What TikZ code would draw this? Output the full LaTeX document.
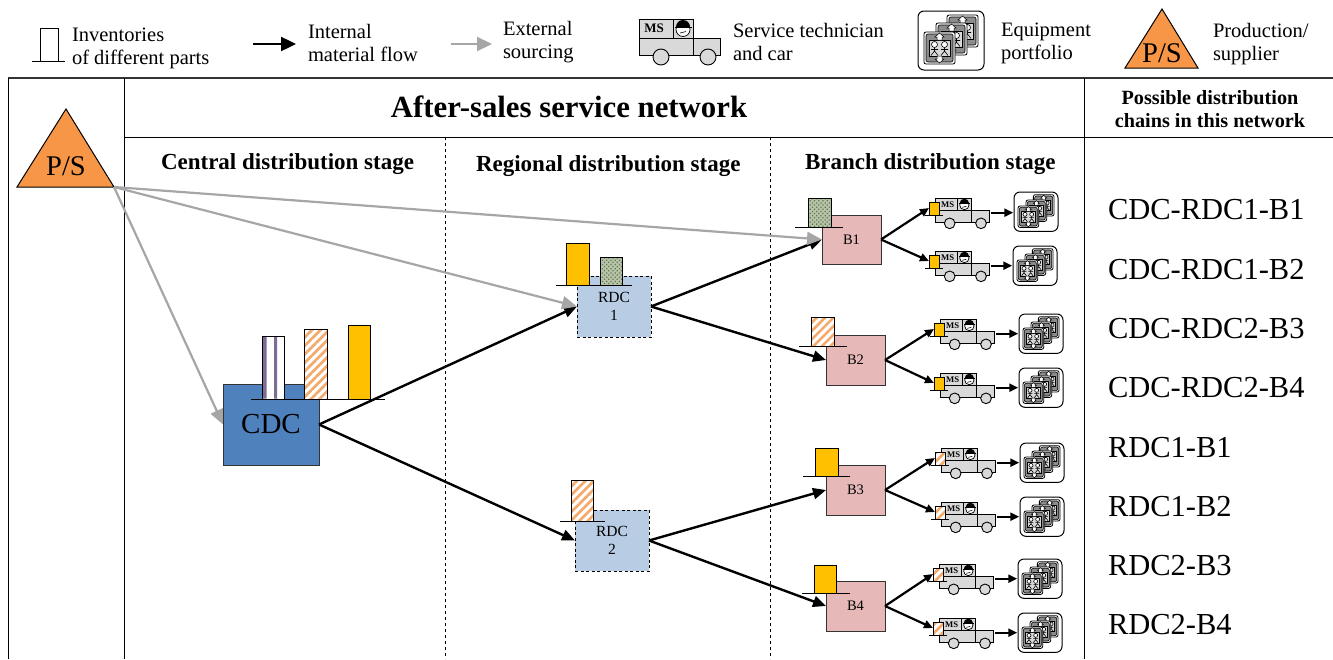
\documentclass[tikz,border=0pt]{standalone}
\usepackage{fontspec}
\setmainfont{Liberation Serif}
\usetikzlibrary{arrows.meta,patterns.meta}
\definecolor{cdcblue}{HTML}{4F81BD}
\definecolor{rdcblue}{HTML}{B8CCE4}
\definecolor{branchpink}{HTML}{E6B8B7}
\definecolor{psorange}{HTML}{F79646}
\definecolor{invyellow}{HTML}{FFC000}
\definecolor{truckgray}{HTML}{D9D9D9}
\definecolor{flowgray}{HTML}{A6A6A6}
\definecolor{stripeviolet}{HTML}{7B6D94}
\definecolor{hatchorange}{HTML}{F4A968}
\definecolor{dotgreen}{HTML}{5F7A45}
\newcommand{\msx}{15}
\tikzset{
  x=1pt,y=-1pt,
  every node/.style={inner sep=0pt,outer sep=0pt},
  grid/.style={line width=1pt,black},
  stagediv/.style={line width=.8pt,black,dash pattern=on 3pt off 3pt},
  flow/.style={line width=2.4pt,black,-{Triangle[length=13pt,width=11pt]}},
  flowsmall/.style={line width=2.2pt,black,-{Triangle[length=9pt,width=8pt]}},
  source/.style={line width=2.2pt,flowgray,-{Triangle[length=15pt,width=13pt]}},
  cdcbox/.style={draw=black!80,line width=1pt,fill=cdcblue},
  rdcbox/.style={draw=black,line width=1pt,dashed,dash pattern=on 3pt off 2.5pt,fill=rdcblue,align=center,font=\fontsize{15.5}{18}\selectfont},
  branchbox/.style={draw=black!80,line width=1pt,fill=branchpink,font=\fontsize{14.5}{16}\selectfont},
  inv/.style={draw=black,line width=1pt},
  invy/.style={inv,fill=invyellow},
  invo/.style={inv,preaction={fill=white},pattern={Lines[angle=45,distance=6pt,line width=2.6pt]},pattern color=hatchorange},
  invg/.style={inv,preaction={fill=dotgreen!45!white},pattern={Dots[radius=.9pt,distance=3pt,angle=45]},pattern color=dotgreen},
  invw/.style={inv,fill=white},
  shelf/.style={line width=1pt,black},
  legend/.style={anchor=west,align=left,font=\fontsize{20.5}{23}\selectfont},
  stage/.style={anchor=base west,font=\fontsize{23}{26}\selectfont\bfseries},
  chain/.style={anchor=base west,font=\fontsize{30.5}{33}\selectfont},
  pics/truck/.style={code={
    \draw[line width=.9pt,fill=truckgray] (0,0) rectangle (34,19);
    \draw[line width=.9pt,fill=truckgray] (34,0) rectangle (54,19);
    \draw[line width=.9pt,fill=truckgray] (0,19) rectangle (54,36);
    \draw[line width=.9pt,fill=truckgray] (54,19) rectangle (81,36);
    \draw[line width=.9pt,fill=truckgray] (22,38) circle (8);
    \draw[line width=.9pt,fill=truckgray] (69,38) circle (8);
    \draw[line width=.7pt,fill=white] (44,10.5) circle (7);
    \fill[black] (37,8) arc[start angle=180,end angle=360,radius=7] -- cycle;
    \draw[line width=.9pt] (36,8) -- (53,8);
    \draw[line width=.6pt] (41,14) -- (47,12.5);
    \node[font=\fontsize{13}{13}\selectfont\bfseries,transform shape] (-ms) at (\msx,9.5) {MS};
    \coordinate (-right) at (84,22);
  }},
  pics/card/.style={code={
    \draw[line width=.8pt,fill=white,rounded corners=2pt] (0,0) rectangle (31,32);
    \draw[line width=.6pt,fill=black!45,rounded corners=2pt] (2,2) rectangle (29,30);
    \draw[line width=.6pt,fill=truckgray] (5,8) rectangle (26,24);
    \draw[line width=.5pt,fill=white] (15.5,1) -- (20,5) -- (18,5) -- (18,8) -- (13,8) -- (13,5) -- (11,5) -- cycle;
    \draw[line width=.5pt,fill=white] (15.5,31) -- (20,27) -- (18,27) -- (18,24) -- (13,24) -- (13,27) -- (11,27) -- cycle;
    \foreach \fx in {10.5,20.5}{
      \draw[line width=.6pt,fill=white] (\fx,12.5) circle (3);
      \draw[line width=.6pt] (\fx,15.5) -- (\fx,19) (\fx-3.5,17.5) -- (\fx+3.5,17.5) (\fx,19) -- (\fx-3.5,23.5) (\fx,19) -- (\fx+3.5,23.5);
    }
  }},
  pics/portfolio/.style={code={
    \draw[line width=1pt,fill=white,rounded corners=6pt] (0,0) rectangle (66,59);
    \pic[transform shape] at (29,4) {card};
    \pic[transform shape] at (18,12) {card};
    \pic[transform shape] at (6,21) {card};
    \coordinate (-left) at (-1,30);
  }},
}
% bar as named node: name, x1, y1, x2, y2, style
\newcommand{\invbar}[6]{%
  \pgfmathsetlengthmacro\barw{(#4)-(#2)}%
  \pgfmathsetlengthmacro\barh{(#5)-(#3)}%
  \node[#6,minimum width=\barw,minimum height=\barh] (#1) at ({((#2)+(#4))/2},{((#3)+(#5))/2}) {};}
% crew: id, truck x, truck y, portfolio x, portfolio y, inventory style
\newcommand{\crew}[6]{%
  \pic[scale=.667,transform shape] (t#1) at (#2,#3) {truck};
  \pic[scale=.667,transform shape] (p#1) at (#4,#5) {portfolio};
  \invbar{i#1}{#2-6}{#3+4}{#2+4}{#3+17}{#6}
  \draw[shelf] ({#2-10},{#3+17}) -- ({#2+8},{#3+17});
  \coordinate (i#1-in) at ({#2-6},{#3+10});
  \draw[flowsmall] (t#1-right) -- (t#1-right -| p#1-left);}
\begin{document}
\begin{tikzpicture}
\useasboundingbox (0,0) rectangle (1333,659);
% frame
\draw[line width=1.6pt,black!80] (8,78) -- (1333,78);
\draw[grid] (8,78) -- (8,659);
\draw[grid] (124,78) -- (124,659);
\draw[grid] (1084,78) -- (1084,659);
\draw[grid] (124,137) -- (1333,137);
\draw[stagediv] (445,137) -- (445,659);
\draw[stagediv] (770,137) -- (770,659);
% legend
\invbar{lgInv}{40}{28}{58}{61}{inv}
\draw[shelf] (32,61) -- (65,61);
\node[legend] (lgInvT) at (72,48) {Inventories\\of different parts};
\coordinate (lgA1) at (253,44); \coordinate (lgA2) at (296,44);
\draw[line width=2.4pt,black,-{Triangle[length=15pt,width=14pt]}] (lgA1) -- (lgA2);
\node[legend] (lgIntT) at (308,43) {Internal\\material flow};
\coordinate (lgB1) at (451,44); \coordinate (lgB2) at (492,44);
\draw[line width=2.2pt,flowgray,-{Triangle[length=15pt,width=14pt]}] (lgB1) -- (lgB2);
\node[legend] (lgExtT) at (503,42) {External\\sourcing};
\pic (lgTruck) at (639,19) {truck};
\node[legend] (lgSerT) at (733,42) {Service technician\\and car};
\pic (lgPort) at (918,11) {portfolio};
\node[legend] (lgEqT) at (1001,43) {Equipment\\portfolio};
\draw[line width=1pt,fill=psorange] (1162,9) -- (1198,68) -- (1125,68) -- cycle;
\node[font=\fontsize{28.5}{28}\selectfont] (lgPS) at (1162,53) {P/S};
\node[legend] (lgProdT) at (1213,44) {Production/\\supplier};
% headers
\node[anchor=base,font=\fontsize{30.8}{33}\selectfont\bfseries] (title) at (569,117) {After-sales service network};
\node[align=center,font=\fontsize{20.2}{23}\selectfont\bfseries] (possible) at (1210,109) {Possible distribution\\chains in this network};
\node[stage] (stC) at (161,169.5) {Central distribution stage};
\node[stage] (stR) at (476,171.5) {Regional distribution stage};
\node[stage] (stB) at (805,169.5) {Branch distribution stage};
% P/S
\draw[line width=1pt,fill=psorange] (66,109) -- (114,187) -- (17,187) -- cycle;
\node[font=\fontsize{28.5}{28}\selectfont] (psT) at (66,166) {P/S};
\coordinate (PS) at (114,187);
% CDC
\node[cdcbox,minimum width=96pt,minimum height=81pt,font=\fontsize{29}{30}\selectfont] (CDC) at (271,424.5) {CDC};
\invbar{cdcA}{262}{336}{284}{399}{invw}
\fill[stripeviolet] (263,337) rectangle (266.5,398.5) (274,337) rectangle (277,398.5);
\invbar{cdcB}{304}{329}{327}{399}{invo}
\invbar{cdcC}{348}{325}{370}{399}{invy}
\draw[shelf] (251,399) -- (385,399);
% RDC
\node[rdcbox,minimum width=74pt,minimum height=61pt] (RDC1) at (614,306.5) {RDC\\1};
\invbar{r1A}{566}{243}{589}{285}{invy}
\invbar{r1B}{600}{257}{622}{285}{invg}
\draw[shelf] (556,285) -- (632,285);
\node[rdcbox,minimum width=74pt,minimum height=61pt] (RDC2) at (612,540.5) {RDC\\2};
\invbar{r2A}{571}{480}{593}{521}{invo}
\draw[shelf] (560,521) -- (605,521);
% branches
\node[branchbox,minimum width=59pt,minimum height=49pt] (B1) at (851.5,239.5) {B1};
\invbar{b1A}{808}{198}{831}{227}{invg}
\draw[shelf] (795,227) -- (843,227);
\node[branchbox,minimum width=59pt,minimum height=50pt] (B2) at (855.5,360) {B2};
\invbar{b2A}{811}{317}{834}{346}{invo}
\draw[shelf] (799,346) -- (847,346);
\node[branchbox,minimum width=59pt,minimum height=50pt] (B3) at (855.5,490) {B3};
\invbar{b3A}{815}{448}{838}{476}{invy}
\draw[shelf] (803,476) -- (850,476);
\node[branchbox,minimum width=59pt,minimum height=50pt] (B4) at (855.5,606) {B4};
\invbar{b4A}{814}{565}{836}{593}{invy}
\draw[shelf] (802,593) -- (850,593);
% crews
\renewcommand{\msx}{19}
\crew{1}{935}{198}{1014}{192}{invy}
\crew{2}{935}{251}{1013}{246}{invy}
\crew{3}{940}{319}{1019}{314}{invy}
\crew{4}{940}{373}{1019}{368}{invy}
\crew{5}{941}{448}{1020}{443}{invo}
\crew{6}{941}{502}{1020}{497}{invo}
\crew{7}{939}{564}{1018}{559}{invo}
\crew{8}{939}{618}{1018}{613}{invo}
% internal flows
\draw[flow] (CDC.east) -- (RDC1.west);
\draw[flow] (CDC.east) -- (RDC2.west);
\draw[flow] (RDC1.east) -- (B1.west);
\draw[flow] (RDC1.east) -- (B2.west);
\draw[flow] (RDC2.east) -- (B3.west);
\draw[flow] (RDC2.east) -- (B4.west);
\foreach \br/\ca/\cb in {B1/1/2,B2/3/4,B3/5/6,B4/7/8}{
  \draw[flowsmall] (\br.east) -- (i\ca-in);
  \draw[flowsmall] (\br.east) -- (i\cb-in);
}
% external sourcing
\draw[source] (PS) -- (B1.west);
\draw[source] (PS) -- (RDC1.west);
\draw[source] (PS) -- (CDC.west);
% chains
\node[chain] (c1) at (1108,219) {CDC-RDC1-B1};
\node[chain] (c2) at (1108,279) {CDC-RDC1-B2};
\node[chain] (c3) at (1108,338) {CDC-RDC2-B3};
\node[chain] (c4) at (1108,397) {CDC-RDC2-B4};
\node[chain] (c5) at (1108,457) {RDC1-B1};
\node[chain] (c6) at (1108,516) {RDC1-B2};
\node[chain] (c7) at (1108,575) {RDC2-B3};
\node[chain] (c8) at (1108,634) {RDC2-B4};
\end{tikzpicture}
\end{document}
